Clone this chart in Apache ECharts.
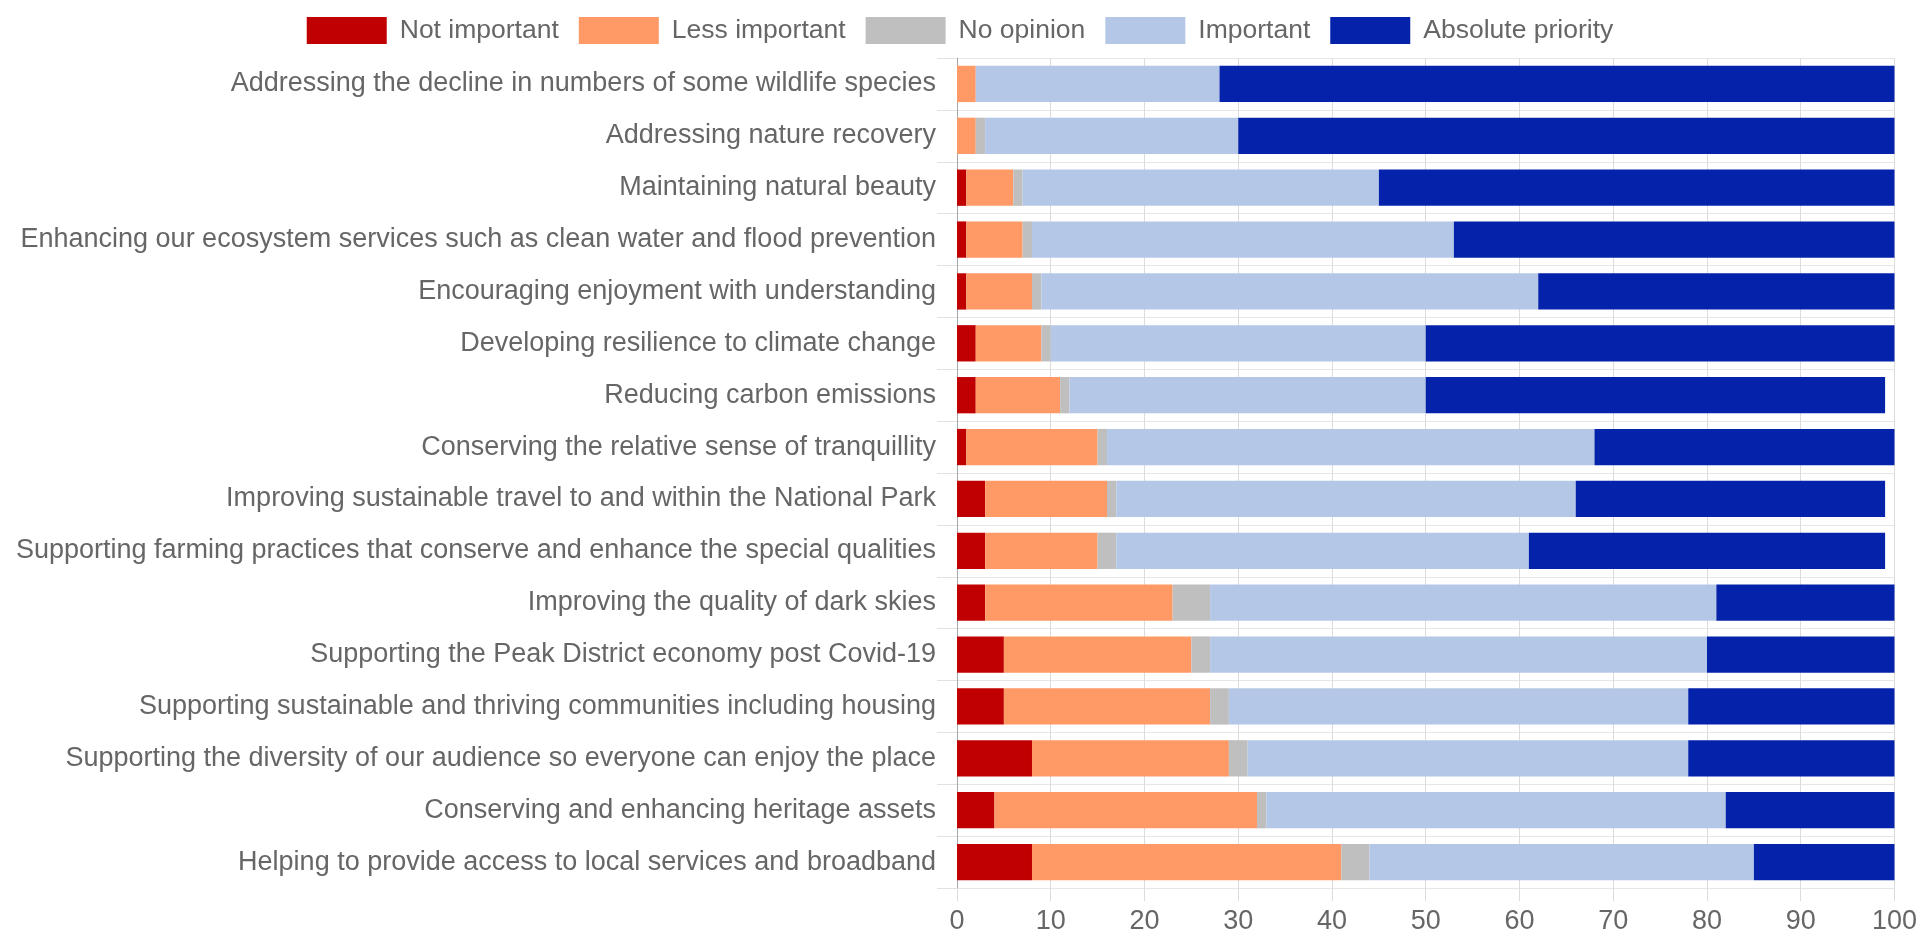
<!DOCTYPE html>
<html>
<head>
<meta charset="utf-8">
<script src="https://cdn.jsdelivr.net/npm/echarts@6/dist/echarts.min.js"></script>
<style>
html,body{margin:0;padding:0;background:#fff;}
#chart{width:1920px;height:935px;}
</style>
</head>
<body>
<div id="chart"></div>
<script>
const categories = [
  "Addressing the decline in numbers of some wildlife species",
  "Addressing nature recovery",
  "Maintaining natural beauty",
  "Enhancing our ecosystem services such as clean water and flood prevention",
  "Encouraging enjoyment with understanding",
  "Developing resilience to climate change",
  "Reducing carbon emissions",
  "Conserving the relative sense of tranquillity",
  "Improving sustainable travel to and within the National Park",
  "Supporting farming practices that conserve and enhance the special qualities",
  "Improving the quality of dark skies",
  "Supporting the Peak District economy post Covid-19",
  "Supporting sustainable and thriving communities including housing",
  "Supporting the diversity of our audience so everyone can enjoy the place",
  "Conserving and enhancing heritage assets",
  "Helping to provide access to local services and broadband"
];
const seriesNames = ["Not important", "Less important", "No opinion", "Important", "Absolute priority"];
const notImportant  = [0, 0, 1, 1, 1, 2, 2, 1, 3, 3, 3, 5, 5, 8, 4, 8];
const lessImportant = [2, 2, 5, 6, 7, 7, 9, 14, 13, 12, 20, 20, 22, 21, 28, 33];
const noOpinion     = [0, 1, 1, 1, 1, 1, 1, 1, 1, 2, 4, 2, 2, 2, 1, 3];
const important     = [26, 27, 38, 45, 53, 40, 38, 52, 49, 44, 54, 53, 49, 47, 49, 41];
const absolute      = [72, 70, 55, 47, 38, 50, 49, 32, 33, 38, 19, 20, 22, 22, 18, 15];
const xTicks = [0, 10, 20, 30, 40, 50, 60, 70, 80, 90, 100];

const colors = ["#C00000", "#FF9966", "#BFBFBF", "#B4C7E7", "#0523AA"];
const values = [notImportant, lessImportant, noOpinion, important, absolute];
const font = "'Liberation Sans', Arial, sans-serif";

const chart = echarts.init(document.getElementById('chart'), null, {renderer: 'canvas'});
chart.setOption({
  animation: false,
  color: colors,
  textStyle: {fontFamily: font},
  legend: {
    top: 12,
    left: 'center',
    itemWidth: 80,
    itemHeight: 27,
    itemGap: 20,
    icon: 'rect',
    selectedMode: false,
    textStyle: {fontSize: 26.5, color: '#666', fontFamily: font, padding: [0, 0, 0, 8]},
    data: seriesNames
  },
  grid: {left: 957, right: 25, top: 58, bottom: 46, containLabel: false},
  xAxis: {
    type: 'value',
    min: xTicks[0],
    max: xTicks[xTicks.length - 1],
    interval: 10,
    axisLine: {show: false},
    axisTick: {show: true, length: 13, lineStyle: {color: '#dcdcdc'}},
    splitLine: {show: true, lineStyle: {color: '#dcdcdc', width: 1}},
    axisLabel: {fontSize: 27, color: '#666', fontFamily: font, margin: 20}
  },
  yAxis: {
    type: 'category',
    inverse: true,
    data: categories,
    axisLine: {show: true, lineStyle: {color: '#a8a8a8', width: 1}},
    axisTick: {show: true, length: 20, lineStyle: {color: '#e2e2e2'}},
    splitLine: {show: true, lineStyle: {color: '#e6e6e6', width: 1}},
    axisLabel: {fontSize: 27, color: '#666', fontFamily: font, margin: 21}
  },
  series: seriesNames.map((name, i) => ({
    name: name,
    type: 'bar',
    stack: 'total',
    barCategoryGap: '30%',
    silent: true,
    itemStyle: {color: colors[i]},
    data: values[i]
  }))
});
</script>
</body>
</html>
